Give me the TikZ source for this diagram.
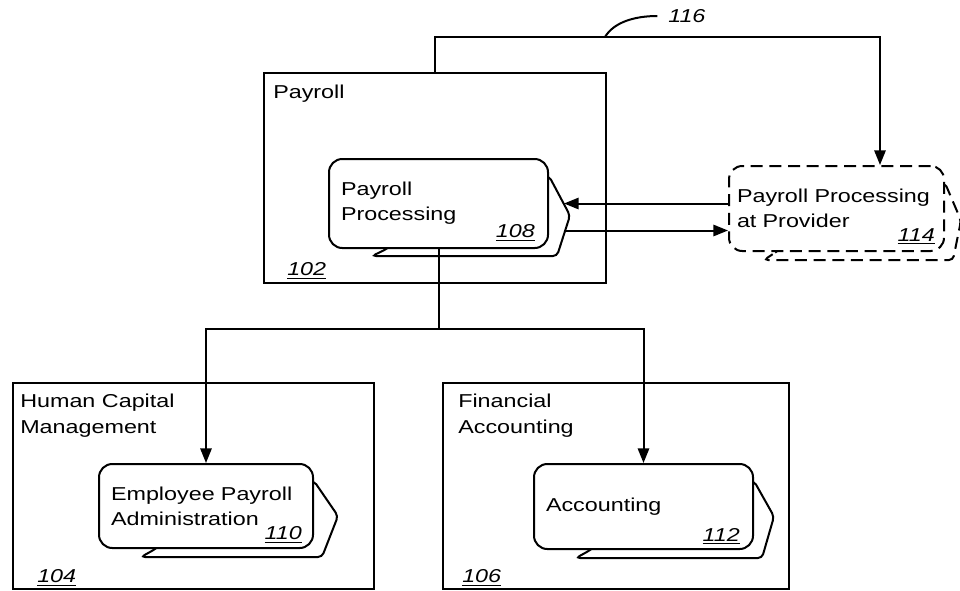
\documentclass[tikz,border=0pt]{standalone}
\usepackage{fontspec}
\setmainfont{Liberation Sans}[FakeStretch=1.25]
\usetikzlibrary{arrows.meta,positioning}
\pgfdeclarelayer{bg}
\pgfsetlayers{bg,main}
\newcommand{\refnum}[1]{\underline{\textit{#1}}}

\begin{document}
\begin{tikzpicture}[x=0.75pt, y=-0.75pt, font=\fontsize{14}{19}\selectfont,
  area/.style = {draw, line width=1.5pt, anchor=north west, inner sep=0pt},
  mod/.style = {draw, line width=1.5pt, fill=white, rounded corners=10pt, anchor=north west, inner xsep=9pt, inner ysep=0pt, align=left},
  back/.style = {draw, line width=1.5pt, fill=white, rounded corners=3pt},
  conn/.style = {line width=1.5pt},
  txt/.style = {inner sep=0pt, align=left},
  prov/.style = {dash pattern=on 9pt off 5pt},
  >={Triangle[length=11pt, width=8.5pt]}]
  \useasboundingbox (0,0) rectangle (960,590);

  % outer areas
  \node[area, minimum width=256.5pt, minimum height=157.5pt] (p_102) at (263,72) {};
  \node[area, minimum width=270.75pt, minimum height=154.5pt] (b_104) at (12,382) {};
  \node[area, minimum width=259.5pt, minimum height=154.5pt] (b_106) at (442,382) {};

  \node[txt, anchor=north west] (t_102) at ([shift={(10,13)}]p_102.north west) {Payroll};
  \node[txt, anchor=south west] (n_102) at ([shift={(24,-5)}]p_102.south west) {\refnum{102}};
  \node[txt, anchor=north west] (t_104) at ([shift={(8,12)}]b_104.north west) {Human Capital\\Management};
  \node[txt, anchor=south west] (n_104) at ([shift={(25,-4)}]b_104.south west) {\refnum{104}};
  \node[txt, anchor=north west] (t_106) at ([shift={(16,12)}]b_106.north west) {Financial\\Accounting};
  \node[txt, anchor=south west] (n_106) at ([shift={(20,-4)}]b_106.south west) {\refnum{106}};

  % modules
  \node[mod, text width=146.25pt, minimum height=66.75pt] (m_108) at (328,158) {Payroll\\Processing};
  \node[mod, prov, inner xsep=6pt, text width=149.25pt, minimum height=63.75pt] (m_114) at (728,165) {Payroll Processing\\at Provider};
  \node[mod, text width=142.5pt, minimum height=63pt] (m_110) at (98,463) {Employee Payroll\\Administration};
  \node[mod, text width=146.25pt, minimum height=63.75pt] (m_112) at (533,463) {Accounting};

  \begin{pgfonlayer}{bg}
    \draw[back] ([xshift=44]m_108.south west) -- ([shift={(44,7)}]m_108.south west)
      -- ([shift={(8,7)}]m_108.south east) -- ([shift={(21,12)}]m_108.east) coordinate (t_108)
      -- ([shift={(0,18)}]m_108.north east) -- (m_108.center) -- cycle;
    \draw[back, prov] ([xshift=36]m_114.south west) -- ([shift={(36,8)}]m_114.south west)
      -- ([shift={(8,8)}]m_114.south east) -- ([shift={(16,12)}]m_114.east)
      -- ([shift={(0,18)}]m_114.north east) -- (m_114.center) -- cycle;
    \draw[back] ([xshift=43]m_110.south west) -- ([shift={(43,8)}]m_110.south west)
      -- ([shift={(8,8)}]m_110.south east) -- ([shift={(24,10)}]m_110.east)
      -- ([shift={(0,18)}]m_110.north east) -- (m_110.center) -- cycle;
    \draw[back] ([xshift=43]m_112.south west) -- ([shift={(43,8)}]m_112.south west)
      -- ([shift={(8,8)}]m_112.south east) -- ([shift={(20,10)}]m_112.east)
      -- ([shift={(0,18)}]m_112.north east) -- (m_112.center) -- cycle;
  \end{pgfonlayer}

  \node[txt, anchor=south east] (n_108) at ([shift={(-14,-8)}]m_108.south east) {\refnum{108}};
  \node[txt, anchor=south east] (n_114) at ([shift={(-10,-8)}]m_114.south east) {\refnum{114}};
  \node[txt, anchor=south east] (n_110) at ([shift={(-12,-6)}]m_110.south east) {\refnum{110}};
  \node[txt, anchor=south east] (n_112) at ([shift={(-14,-6)}]m_112.south east) {\refnum{112}};

  % connectors
  \coordinate (c_116) at (880,37);
  \draw[conn, ->] (p_102.north) |- (c_116) -- (c_116 |- m_114.north);
  \node[anchor=west, inner sep=0pt] (l_116) at (668,16) {\textit{116}};
  \coordinate (c_lead) at (605,37);
  \draw[conn] (c_lead) .. controls (614,22) and (635,16) .. ([xshift=-8]l_116.west);

  \coordinate (u_108) at ([shift={(-6,-12)}]t_108);
  \coordinate (d_108) at ([shift={(-6,15)}]t_108);
  \draw[conn, ->] (m_114.west |- u_108) -- (u_108);
  \draw[conn, ->] (d_108) -- (d_108 -| m_114.west);

  \path (m_108.south) ++(0,80) coordinate (j_1);
  \draw[conn] (m_108.south) -- (j_1);
  \draw[conn, ->] (j_1) -| (m_110.north);
  \draw[conn, ->] (j_1) -| (m_112.north);
\end{tikzpicture}
\end{document}
